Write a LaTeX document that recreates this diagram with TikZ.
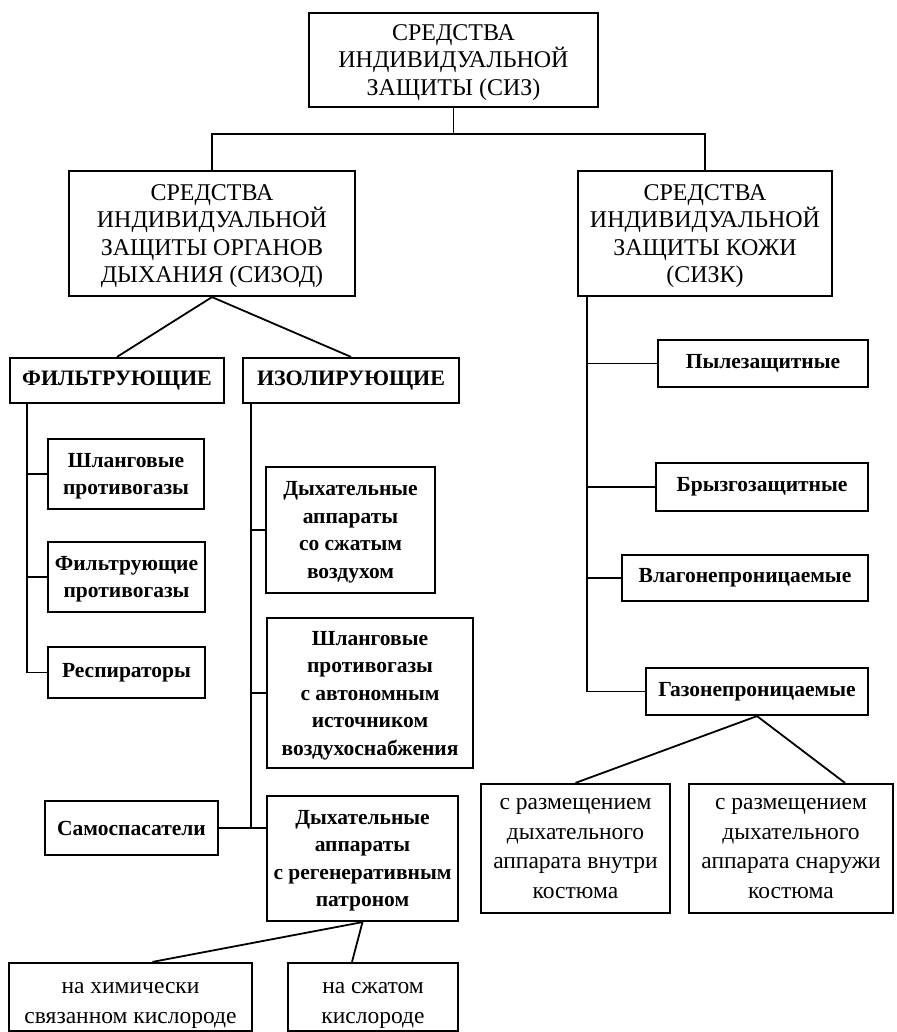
\documentclass[tikz,border=0pt]{standalone}
\usepackage{fontspec}
\setmainfont{Liberation Serif}

\begin{document}
\begin{tikzpicture}[x=1pt, y=-1pt,
  box/.style={draw=black, line width=2.2pt, align=center, inner sep=2pt},
  head/.style={box, font=\fontsize{24}{27.5}\selectfont, text depth=0pt},
  kind/.style={box, font=\fontsize{22}{27}\selectfont\bfseries},
  item/.style={box, font=\fontsize{21.5}{27.5}\selectfont\bfseries},
  lower/.style={text depth=0pt},
  leaf/.style={box, font=\fontsize{23.5}{29.5}\selectfont},
  link/.style={line width=1.8pt}]
\useasboundingbox (0,0) rectangle (896,1032);

  % top
  \node[head, minimum width=289pt, minimum height=94pt] (siz) at (453.5,60)
        {СРЕДСТВА\\ИНДИВИДУАЛЬНОЙ\\ЗАЩИТЫ (СИЗ)};
  \node[head, minimum width=286pt, minimum height=125pt] (sizod) at (212,233.5)
        {СРЕДСТВА\\ИНДИВИДУАЛЬНОЙ\\ЗАЩИТЫ ОРГАНОВ\\ДЫХАНИЯ (СИЗОД)};
  \node[head, minimum width=254pt, minimum height=125pt] (sizk) at (705,233.5)
        {СРЕДСТВА\\ИНДИВИДУАЛЬНОЙ\\ЗАЩИТЫ КОЖИ\\(СИЗК)};

  % breathing: two kinds
  \node[kind, minimum width=214pt, minimum height=45pt] (filt) at (117,380.5) {ФИЛЬТРУЮЩИЕ};
  \node[kind, minimum width=216pt, minimum height=45pt] (izol) at (351,380.5) {ИЗОЛИРУЮЩИЕ};

  % filtering
  \node[item, lower, minimum width=156pt, minimum height=70pt] (hose) at (126,474) {Шланговые\\противогазы};
  \node[item, lower, minimum width=157pt, minimum height=70pt] (fgas) at (126.5,577) {Фильтрующие\\противогазы};
  \node[item, minimum width=157pt, minimum height=51pt] (resp) at (126.5,672.5) {Респираторы};

  % isolating
  \node[item, lower, minimum width=169pt, minimum height=126pt] (air) at (350.5,530)
        {Дыхательные\\аппараты\\со сжатым\\воздухом};
  \node[item, lower, minimum width=206pt, minimum height=150pt] (hoseauto) at (370,693)
        {Шланговые\\противогазы\\с автономным\\источником\\воздухоснабжения};
  \node[item, minimum width=173pt, minimum height=54pt] (self) at (131.5,828) {Самоспасатели};
  \node[item, lower, minimum width=191pt, minimum height=125pt] (regen) at (362.5,858.5)
        {Дыхательные\\аппараты\\с регенеративным\\патроном};
  \node[leaf, text height=52pt, text depth=0pt, minimum width=243pt, minimum height=68pt] (chem) at (130.5,997)
        {на химически\\связанном кислороде};
  \node[leaf, text height=52pt, text depth=0pt, minimum width=170pt, minimum height=68pt] (comp) at (373,997)
        {на сжатом\\кислороде};

  % skin
  \node[item, minimum width=210pt, minimum height=47pt] (dust) at (763,363.5) {Пылезащитные};
  \node[item, minimum width=212pt, minimum height=48pt] (splash) at (762,487) {Брызгозащитные};
  \node[item, minimum width=246pt, minimum height=46pt] (wet) at (745,578) {Влагонепроницаемые};
  \node[item, minimum width=222pt, minimum height=47pt] (gas) at (757,691.5) {Газонепроницаемые};
  \node[leaf, minimum width=189pt, minimum height=129pt] (inside) at (575.5,848.5)
        {с размещением\\дыхательного\\аппарата внутри\\костюма};
  \node[leaf, minimum width=204pt, minimum height=129pt] (outside) at (791,848.5)
        {с размещением\\дыхательного\\аппарата снаружи\\костюма};

\begin{scope}[link]
  % fork under the top box
  \draw (siz.south) -- ++(0,26) coordinate (fork);
  \draw (fork) -| (sizod.north);
  \draw (fork) -| (sizk.north);

  \draw (sizod.south) -- (filt.north);
  \draw (sizod.south) -- (izol.north);

  % filtering spine
  \coordinate (spF) at ([xshift=18pt]filt.south west);
  \draw (spF) |- (hose.west);
  \draw (spF) |- (fgas.west);
  \draw (spF) |- (resp.west);

  % isolating spine
  \coordinate (spI) at ([xshift=9pt]izol.south west);
  \draw (spI) |- (air.west);
  \draw (spI) |- (hoseauto.west);
  \draw (spI) |- (self.east);
  \draw (self.east) -- (self.east -| regen.west);
  \draw (regen.south) -- ([xshift=22pt]chem.north);
  \draw (regen.south) -- ([xshift=-21pt]comp.north);

  % skin spine
  \coordinate (spK) at ([xshift=10pt]sizk.south west);
  \draw (spK) |- (dust.west);
  \draw (spK) |- (splash.west);
  \draw (spK) |- (wet.west);
  \draw (spK) |- (gas.west);
  \draw (gas.south) -- (inside.north);
  \draw (gas.south) -- ([xshift=54pt]outside.north);
\end{scope}
\end{tikzpicture}
\end{document}
